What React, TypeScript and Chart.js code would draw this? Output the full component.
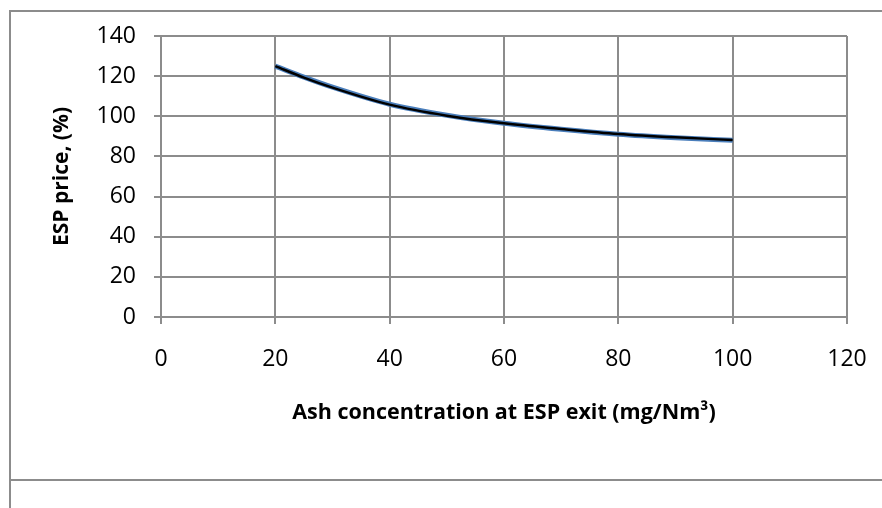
import React, { useEffect, useRef } from "react";
import { Chart, registerables } from "chart.js";

Chart.register(...registerables);

const xValues = [20, 25, 30, 40, 50, 60, 70, 80, 90, 100];
const priceBlue = [125, 119.5, 114.5, 106, 100.5, 96.5, 93.5, 91, 89.3, 88];
const priceBlack = [125, 119.3, 114.3, 105.8, 100.3, 96.5, 93.7, 91.2, 89.5, 88.2];
const xTicks = [0, 20, 40, 60, 80, 100, 120];
const yTicks = [0, 20, 40, 60, 80, 100, 120, 140];
const xTitle = "Ash concentration at ESP exit (mg/Nm³)";
const yTitle = "ESP price, (%)";

const FONT = "'Open Sans', 'Liberation Sans', sans-serif";
const GRID = "#8c8c8c";
const FRAME = "#8c8c8c";

export default function App() {
  const ref = useRef<HTMLCanvasElement | null>(null);

  useEffect(() => {
    if (!ref.current) return;
    const toPts = (ys: number[]) => xValues.map((x, i) => ({ x, y: ys[i] }));
    const chart = new Chart(ref.current, {
      type: "line",
      data: {
        datasets: [
          { data: toPts(priceBlack), borderColor: "#000000", borderWidth: 2.5, pointRadius: 0, cubicInterpolationMode: "monotone" },
          { data: toPts(priceBlue), borderColor: "#4a7ebb", borderWidth: 5, pointRadius: 0, cubicInterpolationMode: "monotone" },
        ],
      },
      options: {
        animation: false,
        responsive: false,
        maintainAspectRatio: false,
        layout: { padding: { left: 0, top: 36, right: 35, bottom: 0 } },
        plugins: { legend: { display: false }, tooltip: { enabled: false } },
        scales: {
          x: {
            type: "linear", min: 0, max: 120,
            afterBuildTicks: (s: any) => { s.ticks = xTicks.map((v) => ({ value: v })); },
            afterFit: (s: any) => { s.height = 191; s.paddingRight = 0; s.paddingLeft = 0; },
            grid: { color: GRID, lineWidth: 2, tickLength: 7 },
            border: { color: GRID, width: 2 },
            ticks: { color: "#000", font: { family: FONT, size: 23 }, padding: 22, maxRotation: 0 },
            title: { display: true, text: xTitle, color: "#000", font: { family: FONT, size: 21.5, weight: "bold" }, padding: { top: 0, bottom: 82 } },
          },
          y: {
            type: "linear", min: 0, max: 140,
            afterBuildTicks: (s: any) => { s.ticks = yTicks.map((v) => ({ value: v })); },
            afterFit: (s: any) => { s.width = 161; s.paddingTop = 0; s.paddingBottom = 0; },
            grid: { color: GRID, lineWidth: 2, tickLength: 7 },
            border: { color: GRID, width: 2 },
            ticks: { color: "#000", font: { family: FONT, size: 23 }, padding: 18 },
            title: { display: true, text: yTitle, color: "#000", font: { family: FONT, size: 21, weight: "bold" }, padding: { top: 49, bottom: 0 } },
          },
        },
      },
    });
    return () => chart.destroy();
  }, []);

  const line = (left: number, top: number, width: number, height: number) => (
    <div style={{ position: "absolute", left, top, width, height, background: FRAME }} />
  );

  return (
    <div style={{ position: "fixed", left: 0, top: 0, width: 882, height: 508, background: "#fff", overflow: "hidden" }}>
      {line(9, 10, 873, 2)}
      {line(9, 10, 2, 498)}
      {line(9, 479, 873, 2)}
      <canvas ref={ref} width={882} height={508} style={{ position: "absolute", left: 0, top: 0, width: 882, height: 508 }} />
    </div>
  );
}
